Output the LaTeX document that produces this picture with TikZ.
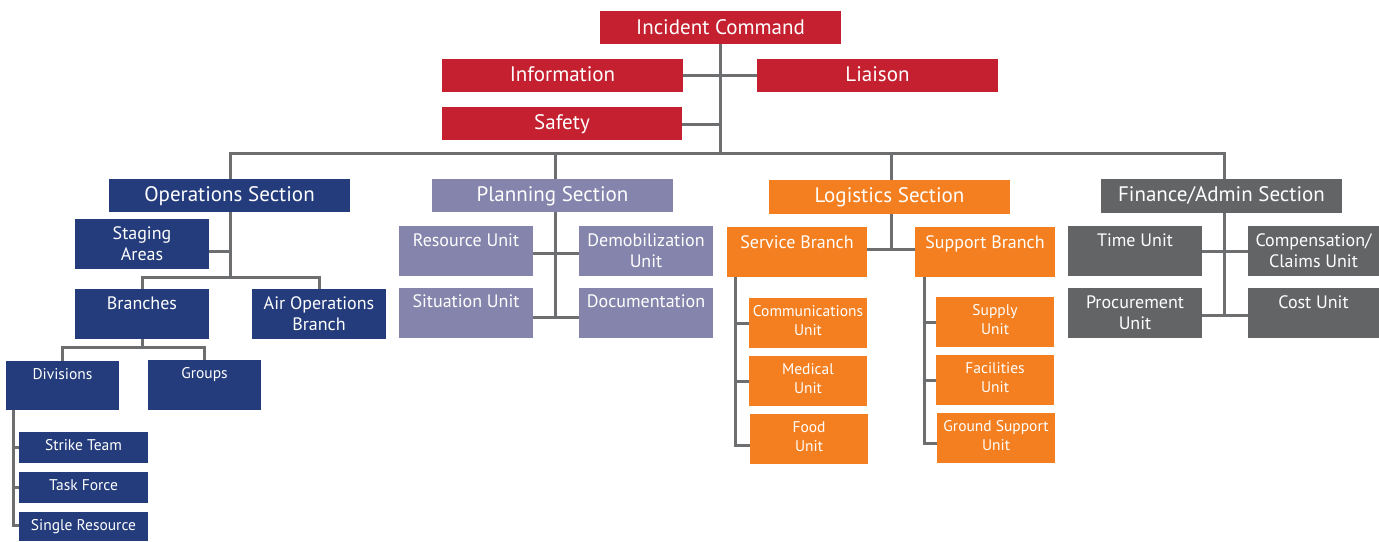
\documentclass[tikz,border=0pt]{standalone}
\usepackage{fontspec}
\setmainfont{PT Sans}
\definecolor{cRed}{HTML}{C42030}
\definecolor{cBlue}{HTML}{243C7C}
\definecolor{cLav}{HTML}{8584AC}
\definecolor{cOrange}{HTML}{F47F20}
\definecolor{cGrey}{HTML}{636466}
\definecolor{cLine}{HTML}{6D6E70}
\newcommand{\UB}[8]{%
  \node[#2] (#1) at ({(#3+#5)/2},{(#4+#6)/2})
   {\parbox[c][\dimexpr #6pt-#4pt\relax][t]{\dimexpr #5pt-#3pt\relax}{\centering\rule{0pt}{#7pt}#8\par}};}
\tikzset{
  box/.style={inner sep=0pt, outer sep=0pt, text=white},
  head/.style={box, font=\fontsize{21}{24}\selectfont},
  mid/.style={box, font=\fontsize{18}{21}\selectfont},
  small/.style={box, font=\fontsize{15.5}{19}\selectfont},
  fred/.style={fill=cRed},
  fblue/.style={fill=cBlue},
  flav/.style={fill=cLav},
  forange/.style={fill=cOrange},
  fgrey/.style={fill=cGrey},
  conn/.style={draw=cLine, line width=3pt},
}
\begin{document}
\begin{tikzpicture}[x=1pt,y=-1pt]
\useasboundingbox (0,0) rectangle (1379,541);
% top
\UB{ic}{head,fred}{600}{11}{841}{44}{23}{Incident Command}
\UB{info}{head,fred}{442}{59}{683}{92}{22}{Information}
\UB{liaison}{head,fred}{757}{59}{998}{92}{22}{Liaison}
\UB{safety}{head,fred}{442}{107}{682}{140}{22}{Safety}
% operations
\UB{ops}{head,fblue}{109}{179}{350}{212}{22}{Operations Section}
\UB{staging}{mid,fblue}{75}{219}{209}{269}{20}{Staging\\Areas}
\UB{branches}{mid,fblue}{75}{289}{209}{339}{20}{Branches}
\UB{air}{mid,fblue}{252}{289}{386}{339}{20}{Air Operations\\Branch}
\UB{div}{small,fblue}{6}{361}{119}{410}{18}{Divisions}
\UB{groups}{small,fblue}{148}{360}{261}{410}{18}{Groups}
\UB{strike}{small,fblue}{19}{432}{148}{463}{18}{Strike Team}
\UB{task}{small,fblue}{19}{472}{148}{503}{18}{Task Force}
\UB{single}{small,fblue}{19}{512}{148}{541}{18}{Single Resource}
% planning
\UB{plan}{head,flav}{432}{179}{673}{212}{22}{Planning Section}
\UB{resource}{mid,flav}{399}{226}{533}{276}{20}{Resource Unit}
\UB{demob}{mid,flav}{579}{226}{713}{276}{20}{Demobilization\\Unit}
\UB{situation}{mid,flav}{399}{288}{533}{338}{19}{Situation Unit}
\UB{doc}{mid,flav}{579}{288}{713}{338}{19}{Documentation}
% logistics
\UB{log}{head,forange}{769}{180}{1010}{214}{22}{Logistics Section}
\UB{service}{mid,forange}{727}{227}{867}{277}{21}{Service Branch}
\UB{support}{mid,forange}{915}{227}{1055}{277}{21}{Support Branch}
\UB{comm}{small,forange}{749}{298}{867}{348}{18}{Communications\\Unit}
\UB{medical}{small,forange}{749}{356}{867}{406}{18}{Medical\\Unit}
\UB{food}{small,forange}{750}{414}{868}{464}{18}{Food\\Unit}
\UB{supply}{small,forange}{936}{297}{1054}{347}{18}{Supply\\Unit}
\UB{facil}{small,forange}{936}{355}{1054}{405}{18}{Facilities\\Unit}
\UB{ground}{small,forange}{937}{413}{1055}{463}{18}{Ground Support\\Unit}
% finance
\UB{fin}{head,fgrey}{1101}{179}{1342}{213}{22}{Finance/Admin Section}
\UB{time}{mid,fgrey}{1068}{226}{1202}{276}{20}{Time Unit}
\UB{comp}{mid,fgrey}{1248}{226}{1379}{276}{20}{Compensation/\\Claims Unit}
\UB{procure}{mid,fgrey}{1068}{288}{1202}{338}{20}{Procurement\\Unit}
\UB{cost}{mid,fgrey}{1248}{288}{1379}{338}{20}{Cost Unit}
% connectors: top
\coordinate (hub) at (720.5,153);
\draw[conn] (ic.south) -- (hub);
\draw[conn] (info.east) -- (liaison.west);
\draw[conn] ([yshift=-1pt]safety.east) -- ([yshift=-1pt]safety.east -| ic.south);
\coordinate (opsdrop) at (230,153);
\coordinate (plandrop) at (555,153);
\coordinate (logdrop) at (891.5,153);
\coordinate (findrop) at (1224.5,153);
\draw[conn] (opsdrop |- ops.north) -- (opsdrop) -- (findrop) -- (findrop |- fin.north);
\draw[conn] (plandrop) -- (plandrop |- plan.north);
\draw[conn] (logdrop) -- (logdrop |- log.north);
% operations
\coordinate (opsj) at (230,277);
\draw[conn] (opsj |- ops.south) -- (opsj);
\draw[conn] ([yshift=-7pt]staging.east) -- ([yshift=-7pt]staging.east -| opsj);
\draw[conn] (branches.north) |- (opsj) -| (air.north);
\coordinate (brj) at (142,347);
\draw[conn] (branches.south) -- (brj);
\draw[conn] (div.north) |- (brj) -| (groups.north);
\coordinate (divsp) at (13,525);
\draw[conn] (divsp |- div.south) |- ([yshift=1pt]single.west);
\draw[conn] (divsp |- strike.west) -- (strike.west);
\draw[conn] (divsp |- task.west) -- (task.west);
% planning
\coordinate (pj) at (555,317);
\draw[conn] (pj |- plan.south) -- (pj);
\draw[conn] ([yshift=-2pt]resource.east) -- ([yshift=-2pt]demob.west);
\draw[conn] ([yshift=-4pt]situation.east) -- ([yshift=-4pt]doc.west);
% logistics
\coordinate (lj) at (891.5,249);
\draw[conn] (lj |- log.south) -- (lj);
\draw[conn] ([yshift=3pt]service.east) -- ([yshift=3pt]support.west);
\coordinate (svsp) at (735,445);
\draw[conn] (svsp |- service.south) |- ([yshift=-6pt]food.west);
\draw[conn] (svsp |- comm.west) -- (comm.west);
\draw[conn] (svsp |- medical.west) -- (medical.west);
\coordinate (spsp) at (924,443);
\draw[conn] (spsp |- support.south) |- ([yshift=-5pt]ground.west);
\draw[conn] (spsp |- supply.west) -- (supply.west);
\draw[conn] (spsp |- facil.west) -- (facil.west);
% finance
\coordinate (fj) at (1224.5,315);
\draw[conn] (fj |- fin.south) -- (fj);
\draw[conn] (time.east) -- (comp.west);
\draw[conn] ([yshift=-2pt]procure.east) -- ([yshift=-2pt]cost.west);
\end{tikzpicture}
\end{document}
